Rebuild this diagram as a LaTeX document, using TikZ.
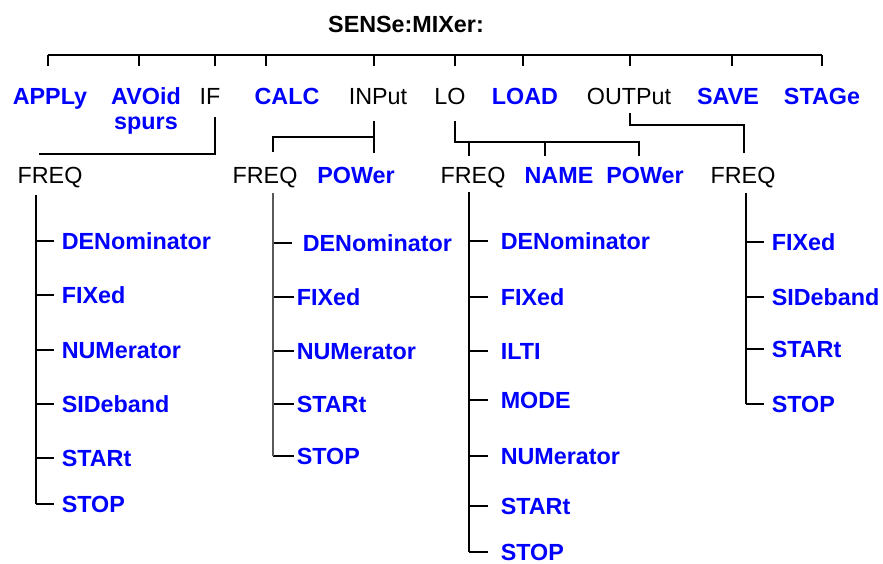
\documentclass[tikz,border=0pt]{standalone}
\usepackage{fontspec}
\setmainfont{Liberation Sans}
\definecolor{cmdblue}{RGB}{0,0,255}

\begin{document}
\begin{tikzpicture}[x=0.75pt, y=-0.75pt, line width=1.2pt,
    lbl/.style={inner sep=0pt, anchor=base, font=\fontsize{17.5}{21}\selectfont},
    cmd/.style={lbl, text=cmdblue, font=\fontsize{17.5}{21}\selectfont\bfseries},
    leaf/.style={cmd, anchor=west, text height=12.5pt, text depth=0pt}]
    \useasboundingbox (0,0) rectangle (883,564);

    % --- root and first level ---
    \node[lbl, font=\fontsize{17.5}{21}\selectfont\bfseries] (title) at (406,32) {SENSe:MIXer:};
    \draw (48,55) -- (822,55);
    \foreach \x in {48,139,215,266,374,455,523,630,732,822}
        \draw (\x,55) -- (\x,66);

    \foreach \x/\n/\t/\s in {50/apply/APPLy/cmd, 146/avoid/AVOid/cmd, 210/if/IF/lbl,
        287/calc/CALC/cmd, 378/inp/INPut/lbl, 450/lo/LO/lbl, 525/load/LOAD/cmd,
        629/outp/OUTPut/lbl, 728/save/SAVE/cmd, 822/stage/STAGe/cmd}
        \node[\s] (\n) at (\x,104) {\t};
    \node[cmd] (spurs) at (146,129) {spurs};

    % --- second level ---
    \foreach \x/\n/\t/\s in {50/fa/FREQ/lbl, 265/fb/FREQ/lbl, 356/pwb/POWer/cmd,
        473/fc/FREQ/lbl, 559/namec/NAME/cmd, 645/pwc/POWer/cmd, 743/fd/FREQ/lbl}
        \node[\s] (\n) at (\x,183) {\t};

    % brackets
    \coordinate (ifA) at (215,117);
    \coordinate (ifB) at (39,154);
    \draw (ifA) |- (ifB);

    \coordinate (inA) at (374,121);
    \coordinate (inB) at (374,153);
    \coordinate (inM) at (374,137);
    \coordinate (inC) at (273,152);
    \draw (inA) -- (inB);
    \draw (inC) |- (inM);

    \coordinate (loA) at (455,121);
    \coordinate (loM) at (455,142);
    \coordinate (loB) at (639,156);
    \draw (loA) -- (loM) -| (loB);
    \foreach \x in {469,545}
        \draw (\x,142) -- (\x,156);

    \coordinate (outA) at (630,113);
    \coordinate (outM) at (630,125);
    \coordinate (outB) at (744,153);
    \draw (outA) -- (outM) -| (outB);

    % --- IF:FREQ ---
    \coordinate (aTop) at (36,195);
    \foreach \n/\t/\y in {a1/DENominator/241, a2/FIXed/295, a3/NUMerator/350,
        a4/SIDeband/404, a5/STARt/458, a6/STOP/504} {
        \node[leaf] (\n) at (61,\y) {\t};
        \draw (aTop |- \n.west) -- ([shift={(-7,0)}]\n.west);
    }
    \draw (aTop) -- (aTop |- a6.west);

    % --- INPut:FREQ ---
    \coordinate (bTop) at (273,193);
    \foreach \n/\t/\y/\s/\g in {b1/DENominator/243/302/10, b2/FIXed/297/296/2,
        b3/NUMerator/351/296/2, b4/STARt/404/296/2, b5/STOP/456/296/2} {
        \node[leaf] (\n) at (\s,\y) {\t};
        \draw (bTop |- \n.west) -- ([shift={(-\g,0)}]\n.west);
    }
    \draw[black!65] (bTop) -- (bTop |- b5.west);

    % --- LO:FREQ ---
    \coordinate (cTop) at (469,192);
    \foreach \n/\t/\y in {c1/DENominator/241, c2/FIXed/297, c3/ILTI/351, c4/MODE/400,
        c5/NUMerator/456, c6/STARt/506, c7/STOP/552} {
        \node[leaf] (\n) at (500,\y) {\t};
        \draw (cTop |- \n.west) -- ([shift={(-12,0)}]\n.west);
    }
    \draw (cTop) -- (cTop |- c7.west);

    % --- OUTPut:FREQ ---
    \coordinate (dTop) at (746,193);
    \foreach \n/\t/\y in {d1/FIXed/242, d2/SIDeband/297, d3/STARt/349, d4/STOP/404} {
        \node[leaf] (\n) at (771,\y) {\t};
        \draw (dTop |- \n.west) -- ([shift={(-7,0)}]\n.west);
    }
    \draw (dTop) -- (dTop |- d4.west);
\end{tikzpicture}
\end{document}
